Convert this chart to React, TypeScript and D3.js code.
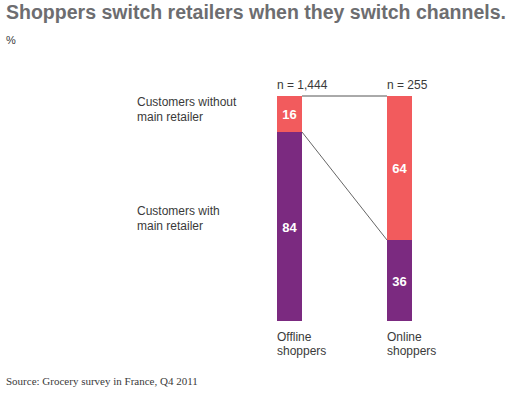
import * as d3 from "d3";

const categories = ["Offline shoppers", "Online shoppers"];
const withoutMain = [16, 64];
const withMain = [84, 36];
const sampleSizes = ["n = 1,444", "n = 255"];
const segmentLabels = [
  ["Customers without", "main retailer"],
  ["Customers with", "main retailer"],
];

const W = 512;
const H = 398;
const RED = "#f25b5d";
const PURPLE = "#7b2a80";
const TEXT = "#3a3a3a";
const SANS = "'Liberation Sans', Arial, Helvetica, sans-serif";

export default function App() {
  const x = d3.scaleBand<string>().domain(categories).range([277, 412]).paddingInner(85 / 110).paddingOuter(0);
  const y = d3.scaleLinear().domain([0, 100]).range([321, 96]);
  const bw = x.bandwidth();

  const rows = categories.map((c, i) => ({
    cat: c,
    x0: x(c) ?? 0,
    without: withoutMain[i],
    with: withMain[i],
    n: sampleSizes[i],
  }));

  const a = rows[0];
  const b = rows[1];

  return (
    <svg width={W} height={H} style={{ position: "absolute", left: 0, top: 0, background: "#fff" }}>
      <text x={6} y={19} fontFamily={SANS} fontWeight="bold" fontSize={19.5} fill="#6d6d70"
        textLength={500} lengthAdjust="spacingAndGlyphs">
        Shoppers switch retailers when they switch channels.
      </text>
      <text x={6} y={44} fontFamily={SANS} fontSize={11} fill={TEXT}>%</text>

      {/* connectors */}
      <line x1={a.x0 + bw} y1={y(100)} x2={b.x0} y2={y(100)} stroke="#555" strokeWidth={1} />
      <line x1={a.x0 + bw} y1={y(a.with)} x2={b.x0} y2={y(b.with)} stroke="#666" strokeWidth={1} />

      {rows.map((r) => (
        <g key={r.cat}>
          <rect x={r.x0} y={y(100)} width={bw} height={y(r.with) - y(100)} fill={RED} />
          <rect x={r.x0} y={y(r.with)} width={bw} height={y(0) - y(r.with)} fill={PURPLE} />
          <text x={r.x0 + bw / 2} y={(y(100) + y(r.with)) / 2 + 5} textAnchor="middle"
            fontFamily={SANS} fontWeight="bold" fontSize={13} fill="#fff">{r.without}</text>
          <text x={r.x0 + bw / 2} y={(y(r.with) + y(0)) / 2 + 5} textAnchor="middle"
            fontFamily={SANS} fontWeight="bold" fontSize={13} fill="#fff">{r.with}</text>
          <text x={r.x0} y={y(100) - 7} fontFamily={SANS} fontSize={12} fill={TEXT}>{r.n}</text>
          {r.cat.split(" ").map((w, k) => (
            <text key={k} x={r.x0} y={341 + k * 14} fontFamily={SANS} fontSize={12} fill={TEXT}>{w}</text>
          ))}
        </g>
      ))}

      {segmentLabels[0].map((t, k) => (
        <text key={"w" + k} x={137} y={106 + k * 15} fontFamily={SANS} fontSize={12} fill={TEXT}>{t}</text>
      ))}
      {segmentLabels[1].map((t, k) => (
        <text key={"m" + k} x={137} y={215 + k * 15} fontFamily={SANS} fontSize={12} fill={TEXT}>{t}</text>
      ))}

      <text x={6} y={385} fontFamily="'Liberation Serif', 'DejaVu Serif', Georgia, serif" fontSize={11} fill={TEXT}>
        Source: Grocery survey in France, Q4 2011
      </text>
    </svg>
  );
}
